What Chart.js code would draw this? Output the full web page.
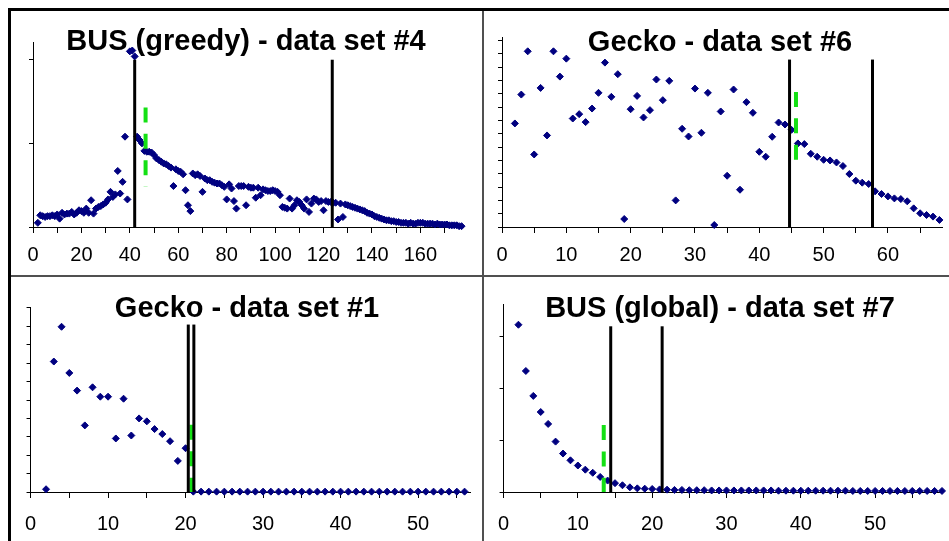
<!DOCTYPE html>
<html>
<head>
<meta charset="utf-8">
<script src="https://cdn.jsdelivr.net/npm/chart.js@4/dist/chart.umd.min.js"></script>
<style>
  html, body { margin: 0; padding: 0; background: #fff; }
  body { position: relative; width: 949px; height: 541px; overflow: hidden; }
  canvas { position: absolute; }
  .rule { position: absolute; }
</style>
</head>
<body>
<canvas id="p1" width="474" height="264" style="left:11px;top:11px"></canvas>
<canvas id="p2" width="475" height="264" style="left:484px;top:11px"></canvas>
<canvas id="p3" width="465" height="264" style="left:11px;top:277px"></canvas>
<canvas id="p4" width="476" height="264" style="left:484px;top:277px"></canvas>

<div class="rule" style="left:8px;top:8px;width:941px;height:3px;background:#000"></div>
<div class="rule" style="left:8px;top:8px;width:3px;height:533px;background:#000"></div>
<div class="rule" style="left:482px;top:11px;width:2px;height:530px;background:#505050"></div>
<div class="rule" style="left:11px;top:275px;width:938px;height:2px;background:#505050"></div>

<script>
// Values. x runs 1 step per point, starting at xStart.
const p1Title = 'BUS (greedy) - data set #4';
const p1XStart = 2;
const p1Y = [
  0.05, 0.14, 0.13, 0.12, 0.13, 0.13, 0.14, 0.13, 0.15, 0.10,
  0.17, 0.15, 0.16, 0.16, 0.18, 0.15, 0.17, 0.20, 0.19, 0.17,
  0.22, 0.17, 0.32, 0.16, 0.22, 0.24, 0.25, 0.27, 0.29, 0.33,
  0.42, 0.36, 0.39, 0.67, 0.40, 0.54, 1.08, 0.33, 2.10, 2.11,
  2.04, 1.08, 1.04, 1.00, 0.91, 0.90, 0.90, 0.89, 0.86, 0.82,
  0.80, 0.78, 0.76, 0.75, 0.73, 0.71, 0.49, 0.69, 0.67, 0.66,
  0.63, 0.44, 0.26, 0.19, 0.64, 0.62, 0.63, 0.61, 0.42, 0.58,
  0.56, 0.56, 0.54, 0.53, 0.52, 0.52, 0.50, 0.48, 0.33, 0.51,
  0.46, 0.31, 0.22, 0.49, 0.49, 0.49, 0.26, 0.48, 0.47, 0.47,
  0.35, 0.47, 0.38, 0.45, 0.44, 0.43, 0.43, 0.44, 0.43, 0.42,
  0.38, 0.24, 0.23, 0.22, 0.34, 0.22, 0.26, 0.32, 0.30, 0.26,
  0.22, 0.33, 0.18, 0.28, 0.34, 0.33, 0.30, 0.31, 0.20, 0.31,
  0.30, 0.30, 0.29, 0.29, 0.09, 0.28, 0.12, 0.27, 0.26, 0.25,
  0.24, 0.23, 0.22, 0.21, 0.20, 0.19, 0.17, 0.16, 0.15, 0.13,
  0.12, 0.11, 0.10, 0.09, 0.08, 0.08, 0.07, 0.07, 0.06, 0.06,
  0.05, 0.05, 0.05, 0.04, 0.05, 0.04, 0.04, 0.05, 0.05, 0.05,
  0.04, 0.04, 0.04, 0.04, 0.03, 0.04, 0.03, 0.03, 0.03, 0.03,
  0.02, 0.02, 0.02, 0.02, 0.01, 0.01
];
const p1Cuts = [42, 123.6];     // black markers: x positions
const p1CutTop = 2.0;
const p1Green = [46.5, 1.43, 0.48]; // x, from, to

const p2Title = 'Gecko - data set #6';
const p2XStart = 2;
const p2Y = [
  7.78, 9.95, 13.2, 5.45, 10.45, 6.88, 13.2, 11.3, 12.65, 8.15,
  8.48, 7.88, 8.9, 10.08, 12.35, 9.78, 11.48, 0.6, 8.85, 9.85,
  8.23, 8.78, 11.08, 9.53, 10.98, 2.0, 7.38, 6.8, 10.4, 7.08,
  10.08, 0.15, 8.68, 3.85, 10.33, 2.8, 9.38, 8.58, 5.65, 5.28,
  6.78, 7.85, 7.7, 7.3, 6.28, 6.23, 5.5, 5.28, 5.05, 5.0,
  4.85, 4.58, 3.98, 3.48, 3.33, 3.23, 2.68, 2.48, 2.3, 2.15,
  2.1, 1.93, 1.4, 1.03, 0.9, 0.78, 0.53
];
const p2Cuts = [44.7, 57.6];
const p2CutTop = 12.58;
const p2Green = [45.7, 10.15, 5.03];

const p3Title = 'Gecko - data set #1';
const p3XStart = 2;
const p3Y = [
  0.15, 7.09, 8.98, 6.47, 5.51, 3.62, 5.69, 5.18, 5.18, 2.91,
  5.07, 3.07, 4.0, 3.84, 3.42, 3.15, 2.76, 1.69, 2.38, 0.02,
  0.02, 0.02, 0.02, 0.02, 0.02, 0.02, 0.02, 0.02, 0.02, 0.02,
  0.02, 0.02, 0.02, 0.02, 0.02, 0.02, 0.02, 0.02, 0.02, 0.02,
  0.02, 0.02, 0.02, 0.02, 0.02, 0.02, 0.02, 0.02, 0.02, 0.02,
  0.02, 0.02, 0.02, 0.02, 0.02
];
const p3Cuts = [20.35, 21.07];
const p3CutTop = 9.1;
const p3Green = [20.77, 3.65, 0];

const p4Title = 'BUS (global) - data set #7';
const p4XStart = 2;
const p4Y = [
  3.22, 2.33, 1.85, 1.54, 1.31, 0.97, 0.74, 0.61, 0.51, 0.43,
  0.37, 0.29, 0.22, 0.17, 0.13, 0.09, 0.07, 0.064, 0.058, 0.05,
  0.045, 0.04, 0.04, 0.035, 0.035, 0.035, 0.03, 0.03, 0.03, 0.03,
  0.03, 0.03, 0.03, 0.03, 0.03, 0.025, 0.025, 0.025, 0.025, 0.025,
  0.025, 0.025, 0.025, 0.025, 0.025, 0.02, 0.02, 0.02, 0.02, 0.02,
  0.02, 0.02, 0.02, 0.02, 0.02, 0.02, 0.02, 0.02
];
const p4Cuts = [14.42, 21.34];
const p4CutTop = 3.19;
const p4Green = [13.48, 1.29, 0];

const FONT = "'Liberation Sans', Arial, sans-serif";
const NAVY = '#000080';

function buildPanel(id, o) {
  const datasets = [];
  o.cuts.forEach(x => {
    datasets.push({
      data: [{ x, y: 0 }, { x, y: o.cutTop }],
      showLine: true, borderColor: '#000', borderWidth: 3,
      pointRadius: 0, clip: false,
    });
  });
  datasets.push({
    data: [{ x: o.green[0], y: o.green[1] }, { x: o.green[0], y: o.green[2] }],
    showLine: true, borderColor: '#14e014', borderWidth: 4,
    borderDash: [15, 11.4], borderCapStyle: 'butt',
    pointRadius: 0, clip: false,
  });
  datasets.push({
    data: o.ys.map((y, i) => ({ x: i + o.xStart, y })),
    pointStyle: 'rectRot', pointRadius: 3.5, borderWidth: 1,
    backgroundColor: NAVY, borderColor: NAVY, clip: false,
  });

  new Chart(document.getElementById(id), {
    type: 'scatter',
    data: { datasets },
    options: {
      responsive: false,
      animation: false,
      events: [],
      layout: { padding: { left: o.padL, right: o.padR, top: 0, bottom: 0 } },
      plugins: {
        legend: { display: false },
        tooltip: { enabled: false },
        title: {
          display: true, text: o.title, color: '#000',
          font: { family: FONT, size: 29, weight: 'bold' },
          padding: { top: o.titleTop, bottom: o.titleBottom },
        },
      },
      scales: {
        x: {
          min: 0, max: o.xMax,
          afterFit: s => { s.height = o.xAxisH; },
          ticks: {
            stepSize: o.xStep, includeBounds: false, autoSkip: false,
            maxRotation: 0, padding: o.labelPad, color: '#000',
            font: { family: FONT, size: 20 },
            callback: v => (v % o.xLabelStep === 0 ? v : ''),
          },
          grid: { drawOnChartArea: false, tickLength: 6, color: '#000' },
          border: { color: '#000', width: 1 },
        },
        y: {
          min: 0, max: o.yMax,
          afterFit: s => { s.width = 4; },
          ticks: { display: false, stepSize: 1, includeBounds: false },
          grid: { drawOnChartArea: false, tickLength: 4, color: '#000' },
          border: { color: '#000', width: 1 },
        },
      },
    },
  });
}

buildPanel('p1', {
  title: p1Title, ys: p1Y, xStart: p1XStart, cuts: p1Cuts, cutTop: p1CutTop, green: p1Green,
  xMax: 177.6, xStep: 10, xLabelStep: 20, yMax: 2.2,
  padL: 18, padR: 22, titleTop: 14, titleBottom: -16.8, xAxisH: 48, labelPad: 10.5,
});
buildPanel('p2', {
  title: p2Title, ys: p2Y, xStart: p2XStart, cuts: p2Cuts, cutTop: p2CutTop, green: p2Green,
  xMax: 68.4, xStep: 5, xLabelStep: 10, yMax: 14.2,
  padL: 14, padR: 17, titleTop: 15, titleBottom: -22.8, xAxisH: 48, labelPad: 10.5,
});
buildPanel('p3', {
  title: p3Title, ys: p3Y, xStart: p3XStart, cuts: p3Cuts, cutTop: p3CutTop, green: p3Green,
  xMax: 56.7, xStep: 5, xLabelStep: 10, yMax: 10,
  padL: 13, padR: 6, titleTop: 14.5, titleBottom: -18.3, xAxisH: 49, labelPad: 14,
});
buildPanel('p4', {
  title: p4Title, ys: p4Y, xStart: p4XStart, cuts: p4Cuts, cutTop: p4CutTop, green: p4Green,
  xMax: 59, xStep: 5, xLabelStep: 10, yMax: 3.6,
  padL: 14, padR: 18, titleTop: 14.5, titleBottom: -21.3, xAxisH: 49, labelPad: 14,
});
</script>
</body>
</html>
